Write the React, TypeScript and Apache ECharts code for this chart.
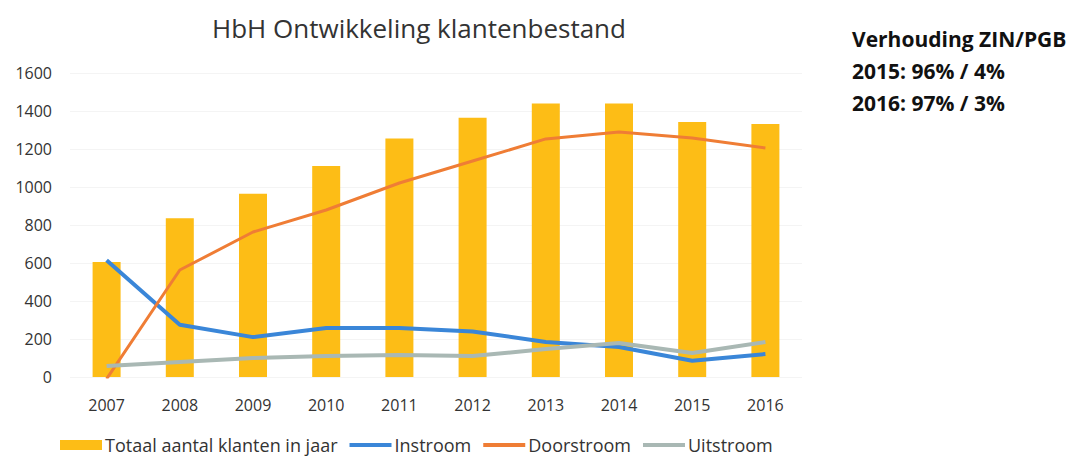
import React, { useEffect, useRef } from "react";
import * as echarts from "echarts";

const years = ["2007", "2008", "2009", "2010", "2011", "2012", "2013", "2014", "2015", "2016"];
const totaal = [605, 835, 965, 1110, 1255, 1365, 1440, 1440, 1342, 1332];
const instroom = [615, 275, 210, 258, 258, 240, 184, 158, 86, 121];
const doorstroom = [-10, 563, 763, 879, 1021, 1137, 1253, 1289, 1258, 1205];
const uitstroom = [58, 79, 100, 110, 116, 110, 147, 179, 126, 184];
const sideLines = ["Verhouding ZIN/PGB", "2015: 96% / 4%", "2016: 97% / 3%"];

const FONT = "'Open Sans', 'Noto Sans', sans-serif";
const LINE_ICON = "path://M0,0 L42,0 L42,4 L0,4 Z";

export default function App() {
  const ref = useRef<HTMLDivElement>(null);
  useEffect(() => {
    const chart = echarts.init(ref.current!, null, { renderer: "svg" });
    chart.setOption({
      animation: false,
      backgroundColor: "#ffffff",
      textStyle: { fontFamily: FONT },
      title: {
        text: "HbH Ontwikkeling klantenbestand",
        left: 414,
        top: 10,
        textAlign: "center",
        textStyle: { fontSize: 26, fontWeight: "normal", color: "#333", fontFamily: FONT },
      },
      graphic: sideLines.map((t, i) => ({
        type: "text",
        left: 852,
        top: 28 + i * 32,
        style: { text: t, font: `bold 21px ${FONT}`, fill: "#111" },
      })),
      legend: {
        bottom: 0,
        left: 55,
        itemGap: 12,
        itemWidth: 42,
        itemHeight: 10,
        textStyle: { fontSize: 18, color: "#333", fontFamily: FONT, padding: [0, 0, 0, -2] },
        data: [
          { name: "Totaal aantal klanten in jaar", icon: "rect" },
          { name: "Instroom", icon: LINE_ICON },
          { name: "Doorstroom", icon: LINE_ICON },
          { name: "Uitstroom", icon: LINE_ICON },
        ],
      },
      grid: { left: 70, right: 271, top: 73, bottom: 82 },
      xAxis: {
        type: "category",
        data: years,
        axisLine: { show: false },
        axisTick: { show: false },
        axisLabel: { fontSize: 16, color: "#333", margin: 20, fontFamily: FONT },
      },
      yAxis: {
        type: "value",
        min: 0,
        max: 1600,
        interval: 200,
        axisLine: { show: false },
        axisTick: { show: false },
        splitLine: { lineStyle: { color: "#f4f4f4" } },
        axisLabel: {
          fontSize: 16,
          color: "#333",
          margin: 18,
          fontFamily: FONT,
          formatter: (v: number) => String(v),
        },
      },
      series: [
        {
          name: "Totaal aantal klanten in jaar",
          type: "bar",
          data: totaal,
          barWidth: 28,
          itemStyle: { color: "#fdbd16" },
        },
        {
          name: "Instroom",
          type: "line",
          data: instroom,
          symbol: "none",
          lineStyle: { width: 4, color: "#3a86d8" },
          itemStyle: { color: "#3a86d8" },
        },
        {
          name: "Doorstroom",
          type: "line",
          data: doorstroom,
          symbol: "none",
          lineStyle: { width: 3, color: "#ef7d35" },
          itemStyle: { color: "#ef7d35" },
        },
        {
          name: "Uitstroom",
          type: "line",
          data: uitstroom,
          symbol: "none",
          lineStyle: { width: 4, color: "#a9b8b4" },
          itemStyle: { color: "#a9b8b4" },
        },
      ],
    });
    return () => chart.dispose();
  }, []);
  return <div ref={ref} style={{ width: 1073, height: 459, position: "absolute", left: 0, top: 0 }} />;
}
